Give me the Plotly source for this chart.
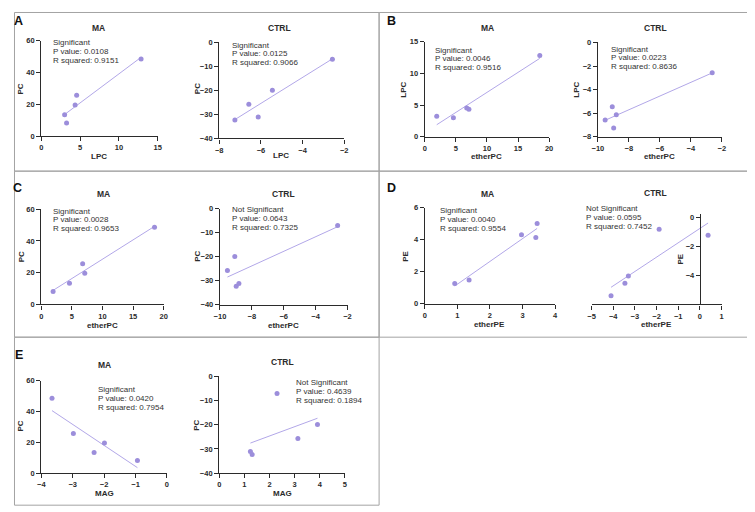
import numpy as np
import plotly.graph_objects as go

W, H = 755, 512
OFF = 8  # the page body margin pushes the figure 8 px right and down

# MA group, one value per subject (same subject order in every array)
ma_etherPC = [1.92, 4.6, 6.75, 7.1, 18.5]
ma_LPC = [3.25, 3.0, 4.55, 4.35, 12.85]
ma_PC = [8.2, 13.4, 25.7, 19.6, 48.6]
ma_MAG = [-0.94, -2.32, -2.98, -1.99, -3.66]
ma_etherPE = [0.92, 1.36, 2.97, 3.41, 3.45]
ma_PE = [1.27, 1.48, 4.32, 4.14, 5.02]

# CTRL group
ctrl_etherPC = [-9.53, -9.07, -8.98, -8.81, -2.62]
ctrl_LPC = [-6.58, -5.45, -7.25, -6.13, -2.57]
ctrl_PC = [-25.7, -19.9, -32.3, -31.1, -7.0]
ctrl_MAG = [3.13, 3.91, 1.31, 1.24, 2.30]
ctrl_etherPE = [-4.10, -3.46, -3.30, -1.88, 0.38]
ctrl_PE = [-5.41, -4.55, -4.05, -0.84, -1.25]

# regression results printed on each plot
significance = ["Significant", "Significant", "Significant", "Significant", "Significant",
                "Not Significant", "Significant", "Not Significant", "Significant", "Not Significant"]
p_values = ["0.0108", "0.0125", "0.0046", "0.0223", "0.0028",
            "0.0643", "0.0040", "0.0595", "0.0420", "0.4639"]
r_squared = ["0.9151", "0.9066", "0.9516", "0.8636", "0.9653",
             "0.7325", "0.9554", "0.7452", "0.7954", "0.1894"]

DOT = "#9c8edb"
FIT = "#b2a7e8"
INK = "#2b2b2b"
FONT = "Liberation Sans, Arial, sans-serif"

def px(x):
    return max(x - OFF, 0.5) / W

def py(y):
    return 1 - max(y - OFF, 0.5) / H

# x data, y data, x title, y title, group, plot box (px), x range, y range, dticks,
# stats text left/top line centre, x title pos, y title pos
panels = [
    dict(x=ma_LPC, y=ma_PC, xt="LPC", yt="PC", grp="MA", box=(35.7, 37.3, 153.7, 134.3),
         xr=[0, 15], yr=[0, 60], dx=5, dy=20, txt=(45, 39), xtp=(94.5, 155), ytp=(15, 86), tp=(94, 24)),
    dict(x=ctrl_LPC, y=ctrl_PC, xt="LPC", yt="PC", grp="CTRL", box=(216, 39, 342.7, 136.7),
         xr=[-8, -2], yr=[-40, 0], dx=2, dy=10, txt=(227.3, 41.7), xtp=(279, 154.5), ytp=(194, 86), tp=(277, 24)),
    dict(x=ma_etherPC, y=ma_LPC, xt="etherPC", yt="LPC", grp="MA", box=(424.3, 38.3, 550.3, 135),
         xr=[0, 20], yr=[0, 15], dx=5, dy=5, txt=(433, 46.7), xtp=(487.3, 155), ytp=(403, 87.3), tp=(487.7, 24)),
    dict(x=ctrl_etherPC, y=ctrl_LPC, xt="etherPC", yt="LPC", grp="CTRL", box=(599.7, 39, 725.3, 135),
         xr=[-10, -2], yr=[-8, 0], dx=2, dy=2, txt=(611, 45.7), xtp=(662.3, 155), ytp=(578.3, 87.3), tp=(658, 24)),
    dict(x=ma_etherPC, y=ma_PC, xt="etherPC", yt="PC", grp="MA", box=(35.7, 208.7, 159.7, 305.7),
         xr=[0, 20], yr=[0, 60], dx=5, dy=20, txt=(46, 210.7), xtp=(97.7, 326.7), ytp=(15, 256.7), tp=(99, 193.3)),
    dict(x=ctrl_etherPC, y=ctrl_PC, xt="etherPC", yt="PC", grp="CTRL", box=(216.7, 208.3, 346, 306),
         xr=[-10, -2], yr=[-40, 0], dx=2, dy=10, txt=(226.7, 209.3), xtp=(280.7, 326.7), ytp=(194, 256.7), tp=(280.7, 193.3)),
    dict(x=ma_etherPE, y=ma_PE, xt="etherPE", yt="PE", grp="MA", box=(424.3, 207.3, 556.3, 305),
         xr=[0, 4], yr=[0, 6], dx=1, dy=2, txt=(438, 210), xtp=(490, 325.7), ytp=(404.7, 256.7), tp=(487.7, 193.3)),
    dict(x=ctrl_etherPE, y=ctrl_PE, xt="etherPE", yt="PE", grp="CTRL", box=(593.3, 213.7, 725, 305.7),
         xr=[-5, 1], yr=[-6, 0.2], dx=1, dy=2, txt=(586, 208.3), xtp=(659, 325.7), ytp=(684, 260), tp=(658, 192.3),
         yzero=True),
    dict(x=ma_MAG, y=ma_PC, xt="MAG", yt="PC", grp="MA", box=(35.7, 383.3, 163, 477.3),
         xr=[-4, 0], yr=[0, 60], dx=1, dy=20, txt=(90.7, 392.7), xtp=(99.3, 498.3), ytp=(15, 429), tp=(99.3, 367.7)),
    dict(x=ctrl_MAG, y=ctrl_PC, xt="MAG", yt="PC", grp="CTRL", box=(216, 379, 343.3, 477.3),
         xr=[0, 5], yr=[-40, 0], dx=1, dy=10, txt=(291.7, 385), xtp=(280, 498.3), ytp=(193.3, 428.3), tp=(279.7, 364)),
]

letters = ["A", "B", "C", "D", "E"]
letter_pos = [(13, 17), (391, 17), (12, 186.7), (390.3, 186.7), (13.3, 356.7)]
frames = [(1, 1, 378, 170), (378, 1, 754, 170), (1, 170, 378, 339), (378, 170, 754, 339), (1, 339, 378, 510)]

fig = go.Figure()
annotations = []
layout_axes = {}

def label(x, y, text, size, bold=False, anchor="center", angle=0, color=INK):
    annotations.append(dict(x=px(x), y=py(y), xref="paper", yref="paper", text=text, showarrow=False,
                            xanchor=anchor, yanchor="middle", textangle=angle,
                            font=dict(family=FONT, size=size, color=color,
                                      weight="bold" if bold else "normal")))

for i, p in enumerate(panels):
    n = "" if i == 0 else str(i + 1)
    xs, ys = np.array(p["x"]), np.array(p["y"])

    # least squares line over the data span
    slope, icpt = np.polyfit(xs, ys, 1)
    lx = np.array([xs.min(), xs.max()])
    fig.add_trace(go.Scatter(x=lx, y=slope * lx + icpt, mode="lines", line=dict(color=FIT, width=1),
                             xaxis="x" + n, yaxis="y" + n, hoverinfo="skip", showlegend=False))
    fig.add_trace(go.Scatter(x=xs, y=ys, mode="markers", marker=dict(color=DOT, size=5),
                             xaxis="x" + n, yaxis="y" + n, showlegend=False))

    x0, yt, x1, yb = p["box"]
    common = dict(showgrid=False, zeroline=False, showline=True, linecolor=INK, linewidth=1.3,
                  ticks="outside", ticklen=4, tickwidth=1.3, tickcolor=INK,
                  tickfont=dict(family=FONT, size=7.5, color=INK, weight="bold"))
    layout_axes["xaxis" + n] = dict(common, domain=[px(x0), px(x1)], range=p["xr"], dtick=p["dx"],
                                    tick0=0, anchor="y" + n)
    yax = dict(common, domain=[py(yb), py(yt)], range=p["yr"], dtick=p["dy"], tick0=0)
    if p.get("yzero"):
        # y axis crosses at x = 0
        frac = (0 - p["xr"][0]) / (p["xr"][1] - p["xr"][0])
        yax.update(anchor="free", position=px(x0 + frac * (x1 - x0)), tickvals=[0, -2, -4])
    else:
        yax.update(anchor="x" + n)
    layout_axes["yaxis" + n] = yax

    # stats text
    tx, ty = p["txt"]
    lines = [significance[i], "P value: " + p_values[i], "R squared: " + r_squared[i]]
    for k, s in enumerate(lines):
        label(tx, ty + 9 * k, s, 8, anchor="left", color="#333333")

    # group title and axis titles
    label(p["tp"][0], p["tp"][1], p["grp"], 8.5, bold=True)
    label(p["xtp"][0], p["xtp"][1], p["xt"], 8, bold=True)
    label(p["ytp"][0], p["ytp"][1], p["yt"], 8, bold=True, angle=-90)

for lab, (lx_, ly_) in zip(letters, letter_pos):
    label(lx_, ly_, lab, 12.5, bold=True, color="#111111")

shapes = [dict(type="rect", xref="paper", yref="paper", x0=px(a), x1=px(c), y0=py(d), y1=py(b),
               line=dict(color="#a3a3a3", width=1)) for a, b, c, d in frames]

fig.update_layout(width=W, height=H, margin=dict(l=0, r=0, t=0, b=0),
                  paper_bgcolor="white", plot_bgcolor="white",
                  annotations=annotations, shapes=shapes, **layout_axes)

fig.write_html("out.html")
